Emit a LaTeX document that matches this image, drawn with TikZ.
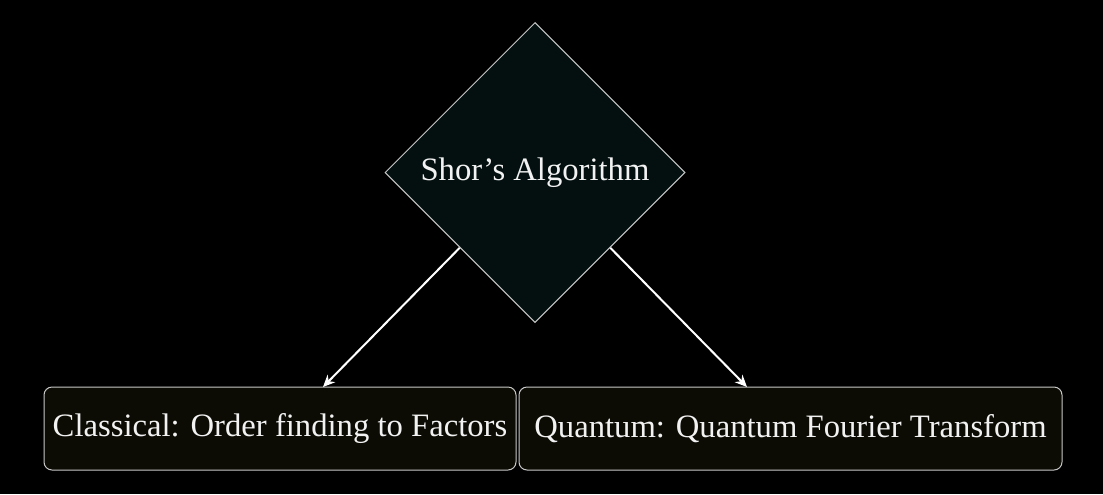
\documentclass[tikz,border=0pt]{standalone}
\usepackage{fontspec}
\setmainfont{Liberation Serif}
\usetikzlibrary{shapes.geometric,arrows.meta}
\definecolor{bg}{RGB}{0,0,0}
\definecolor{dfill}{RGB}{4,16,16}
\definecolor{bfill}{RGB}{13,12,4}
\definecolor{edge}{RGB}{200,200,200}
\definecolor{txt}{RGB}{242,242,242}
\tikzset{
  decision/.style={diamond, draw=edge, fill=dfill, line width=0.75pt, inner sep=0pt,
    minimum width=225pt, minimum height=225pt, text=txt, font=\fontsize{24.5}{29}\selectfont},
  leaf/.style={rectangle, rounded corners=6pt, draw=edge, fill=bfill, line width=0.75pt,
    inner sep=0pt, minimum height=62.25pt, text=txt, font=\fontsize{24.5}{29}\selectfont},
  link/.style={draw=white, line width=1.5pt, -{Stealth[length=9pt,width=8pt]}}
}
\begin{document}
\begin{tikzpicture}[x=0.75pt,y=-0.75pt]
\fill[bg] (0,0) rectangle (1103,494);
\useasboundingbox (0,0) rectangle (1103,494);
\node[decision] (s) at (535,172.5) {Shor’s Algorithm};
\node[leaf, minimum width=354pt] (c) at (280,428.5) {Classical: Order finding to Factors};
\node[leaf, minimum width=407.25pt] (q) at (790.5,428.5) {Quantum: Quantum Fourier Transform};
\coordinate (ca) at (323,387);
\coordinate (qa) at (747,387);
\draw[link] (s.south west) -- (ca);
\draw[link] (s.south east) -- (qa);
\end{tikzpicture}
\end{document}
